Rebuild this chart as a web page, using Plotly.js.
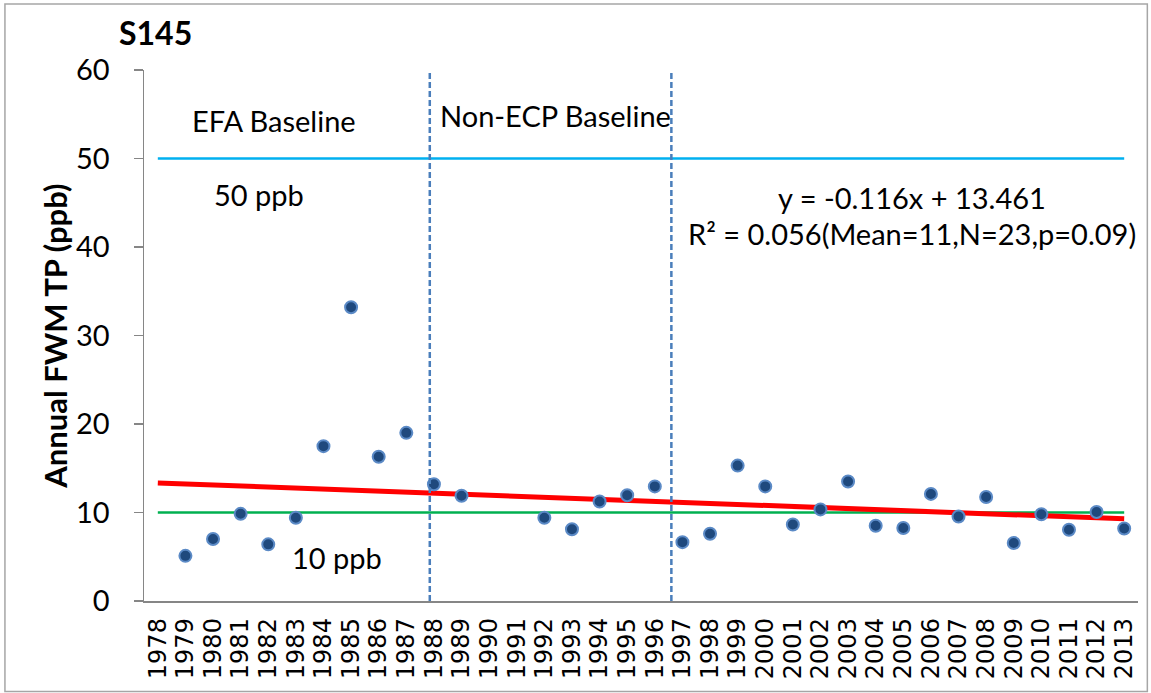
<!DOCTYPE html>
<html>
<head>
<meta charset="utf-8">
<script src="https://cdn.plot.ly/plotly-3.0.1.min.js"></script>
<style>html,body{margin:0;padding:0;background:#fff;}#chart{width:1151px;height:693px;}</style>
</head>
<body>
<div id="chart"></div>
<script>
// ---- data ----
const years = [1978,1979,1980,1981,1982,1983,1984,1985,1986,1987,1988,1989,1990,1991,1992,1993,1994,1995,1996,1997,1998,1999,2000,2001,2002,2003,2004,2005,2006,2007,2008,2009,2010,2011,2012,2013];
const tickLabels = years.map(String);
const obsYears = [1979,1980,1981,1982,1983,1984,1985,1986,1987,1988,1989,1992,1993,1994,1995,1996,1997,1998,1999,2000,2001,2002,2003,2004,2005,2006,2007,2008,2009,2010,2011,2012,2013];
const tpValues = [5.1,7.0,9.85,6.4,9.4,17.5,33.2,16.3,19.0,13.2,11.9,9.4,8.1,11.25,11.95,12.95,6.65,7.6,15.3,12.95,8.65,10.35,13.5,8.5,8.25,12.1,9.55,11.75,6.55,9.8,8.05,10.05,8.2];
const trendSlope = -0.116;
const trendIntercept = 13.461;
const threshold50 = 50;
const threshold10 = 10;
const baselineBreaks = [1987.85, 1996.6];
const yTicks = [0,10,20,30,40,50,60];

const trendX = [years[0], years[years.length-1]];
const trendY = trendX.map(y => trendSlope * (years.indexOf(y) + 1) + trendIntercept);

const F = 'Lato, "Open Sans", sans-serif';
const FS = 29;

const traces = [
  {x:[years[0], years[years.length-1]], y:[threshold50, threshold50], mode:'lines', line:{color:'#00B0F0', width:2.5}, hoverinfo:'skip'},
  {x:[years[0], years[years.length-1]], y:[threshold10, threshold10], mode:'lines', line:{color:'#00B050', width:2.5}, hoverinfo:'skip'},
  {x:trendX, y:trendY, mode:'lines', line:{color:'#FF0000', width:5}, hoverinfo:'skip'},
  {x:obsYears, y:tpValues, mode:'markers', marker:{size:12, color:'#1F497D', line:{color:'#5B8AC6', width:2}}}
];

const shapes = baselineBreaks.map(b => ({type:'line', xref:'x', yref:'y', x0:b, x1:b, y0:0, y1:60, line:{color:'#4A7EBB', width:2.5, dash:'6px,3px'}}));
shapes.push({type:'rect', xref:'paper', yref:'paper', x0:-0.1399, x1:1.0094, y0:-0.1704, y1:1.1244, line:{color:'#A6A6A6', width:1.5}, fillcolor:'rgba(0,0,0,0)'});

const ann = (x, y, text, size, extra) => Object.assign({x:x, y:y, xref:'x', yref:'y', text:text, showarrow:false, font:{family:F, size:size, color:'#000'}}, extra||{});

const layout = {
  width:1151, height:693,
  margin:{l:144, r:13.4, t:70, b:92.4},
  paper_bgcolor:'#fff', plot_bgcolor:'#fff',
  showlegend:false,
  xaxis:{
    range:[1977.5, 2013.5], tickvals:years, ticktext:tickLabels, tickangle:-90,
    showgrid:false, zeroline:false, showline:true, linecolor:'#868686', linewidth:1.5,
    ticks:'', ticklabelstandoff:6, tickfont:{family:'"DejaVu Sans", sans-serif', size:24, color:'#000'}
  },
  yaxis:{
    range:[0,60], tickvals:yTicks, showgrid:false, zeroline:false,
    showline:true, linecolor:'#868686', linewidth:1.5, ticks:'outside', ticklen:9, tickcolor:'#868686', tickwidth:1.5,
    ticklabelstandoff:18, tickfont:{family:F, size:FS, color:'#000'}
  },
  shapes:shapes,
  annotations:[
    {xref:'paper', yref:'paper', x:-0.0272, y:1.0697, xanchor:'left', yanchor:'middle', text:'<b>S145</b>', showarrow:false, font:{family:F, size:32, color:'#000'}},
    {xref:'paper', yref:'paper', x:-0.0895, y:0.4977, xanchor:'center', yanchor:'middle', textangle:-90, text:'<b>Annual FWM TP (ppb)</b>', showarrow:false, font:{family:F, size:31, color:'#000'}},
    ann(1982.21, 54.35, 'EFA Baseline', FS),
    ann(1992.41, 54.9, 'Non-ECP Baseline', FS),
    ann(1981.68, 45.98, '50 ppb', FS),
    ann(1984.49, 4.93, '10 ppb', FS),
    ann(2005.32, 45.64, 'y = -0.116x + 13.461', FS),
    ann(2005.32, 41.57, 'R² = 0.056(Mean=11,N=23,p=0.09)', FS)
  ]
};

Plotly.newPlot('chart', traces, layout, {displayModeBar:false, staticPlot:true});
</script>
</body>
</html>
